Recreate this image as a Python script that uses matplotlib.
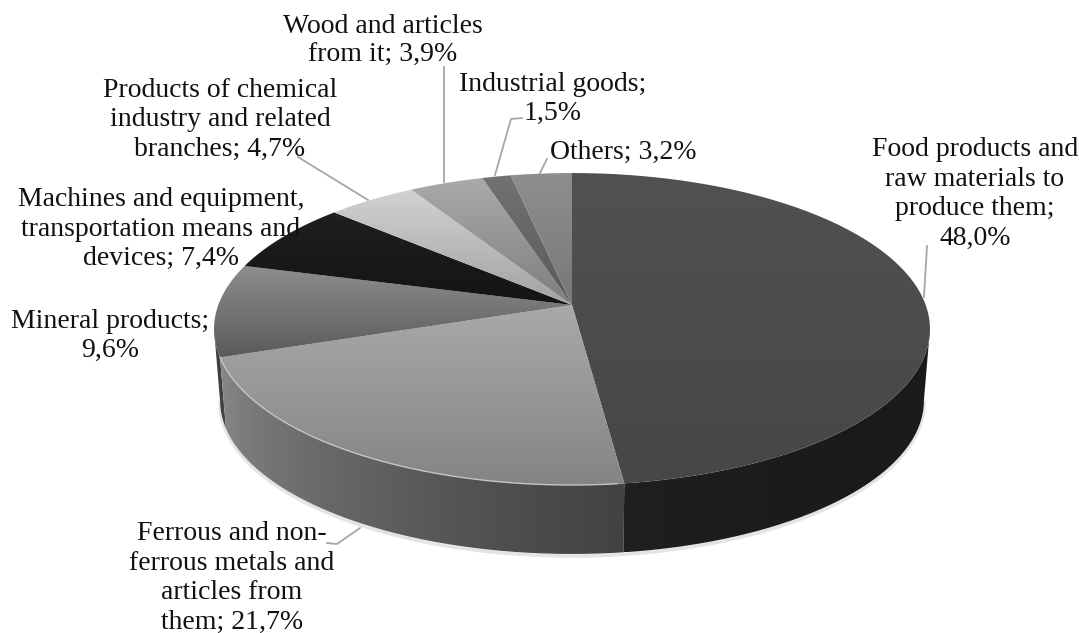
import numpy as np
import matplotlib
matplotlib.use("Agg")
import matplotlib.pyplot as plt
from matplotlib.colors import to_rgb
from matplotlib.patches import PathPatch
from matplotlib.path import Path

plt.rcParams['font.family'] = ['Liberation Serif', 'DejaVu Serif']

# data, clockwise from 12 o'clock
categories = ["Food products and\nraw materials to\nproduce them;\n48,0%",
              "Ferrous and non-\nferrous metals and\narticles from\nthem; 21,7%",
              "Mineral products;\n9,6%",
              "Machines and equipment,\ntransportation means and\ndevices; 7,4%",
              "Products of chemical\nindustry and related\nbranches; 4,7%",
              "Wood and articles\nfrom it; 3,9%",
              "Industrial goods;\n1,5%",
              "Others; 3,2%"]
values = [48.0, 21.7, 9.6, 7.4, 4.7, 3.9, 1.5, 3.2]

# colours, top of slice -> bottom of slice
top_light = ['#515151', '#a8aaa8', '#8e8e8e', '#1f1f1f', '#d2d2d0', '#aaaaaa', '#727272', '#8e8e8e']
top_dark = ['#474747', '#848484', '#5a5a5a', '#141414', '#a2a2a2', '#7e7e7e', '#5a5a5a', '#787878']
# side walls, left -> right
wall_left = ['#202020', '#8c8c8c', '#303030']
wall_right = ['#1a1a1a', '#424242', '#484848']

# label places in pixels
label_x = [975, 232, 110, 161, 220, 383, 553, 623]
label_y = [194, 578, 336, 229, 120, 41, 99, 152]
leaders = [[(927, 246), (924, 297)],
           [(327, 543), (337, 544), (360, 528)],
           None,
           None,
           [(298, 157), (368, 200)],
           [(444, 67), (444, 182)],
           [(522, 118), (511, 119), (495, 175)],
           [(547, 159), (540, 173)]]

cx, cy = 572, 305
rx, ry, k = 353.7, 152.3, 0.154
low_dy, low_scale = 72, 0.983


def rim(a0, a1, dy=0, scale=1.0):
    t = np.radians(np.linspace(a0, a1, 200))
    xx, yy = np.sin(t), np.cos(t)
    w = 1 + k * yy
    return np.column_stack([cx + scale * rx * xx / w, cy + dy - scale * ry * yy / w])


def fill_gradient(ax, pts, c0, c1, vertical=True, z=1, gamma=1.0):
    c0, c1 = np.array(to_rgb(c0)), np.array(to_rgb(c1))
    f = np.linspace(0, 1, 256)[:, None] ** gamma
    img = c0 + (c1 - c0) * f
    img = img[:, None, :] if vertical else img[None, :, :]
    x0, x1 = pts[:, 0].min(), pts[:, 0].max()
    y0, y1 = pts[:, 1].min(), pts[:, 1].max()
    im = ax.imshow(img, extent=(x0, x1, y1, y0), aspect='auto', zorder=z,
                   interpolation='bilinear')
    patch = PathPatch(Path(np.vstack([pts, pts[:1]])), transform=ax.transData,
                      fc='none', ec='none')
    ax.add_patch(patch)
    im.set_clip_path(patch)


fig = plt.figure(figsize=(10.79, 6.33), dpi=100)
ax = fig.add_axes([0, 0, 1, 1])

edges = np.cumsum([0] + values) * 3.6

# angles where the disc is widest, the wall stops there
side_r = np.degrees(np.arccos(-k))
side_l = 360 - side_r

# soft shadow under the wall
low = rim(side_r, side_l, low_dy + 2, low_scale)
ax.plot(low[:, 0], low[:, 1], color='#e4e4e4', lw=2.5, zorder=0.5)

# walls, only first three slices can be seen
for i in [2, 1, 0]:
    a0 = max(edges[i], side_r)
    a1 = min(edges[i + 1], side_l)
    upper = rim(a0, a1)
    lower = rim(a0, a1, low_dy, low_scale)
    wall = np.vstack([upper, lower[::-1]])
    fill_gradient(ax, wall, wall_left[i], wall_right[i], vertical=False,
                  z=1 + (2 - i) * 0.1, gamma=0.55)

# top faces
for i in range(len(values)):
    pts = np.vstack([[(cx, cy)], rim(edges[i], edges[i + 1])])
    fill_gradient(ax, pts, top_light[i], top_dark[i], z=2)

# light bevel on the ferrous slice
bev = rim(edges[1] + 1, edges[2])
ax.plot(bev[:, 0], bev[:, 1], color='#c4c4c4', lw=1, zorder=3)

for seg in leaders:
    if seg is None:
        continue
    seg = np.array(seg)
    ax.plot(seg[:, 0], seg[:, 1], color='#a6a6a6', lw=1.3, zorder=3)

for name, x, y in zip(categories, label_x, label_y):
    ax.text(x, y, name, ha='center', va='center', fontsize=20, color='#111111',
            linespacing=1.23, zorder=5)

ax.set_xlim(0, 1079)
ax.set_ylim(633, 0)
ax.axis('off')
fig.savefig('out.png', dpi=100)
